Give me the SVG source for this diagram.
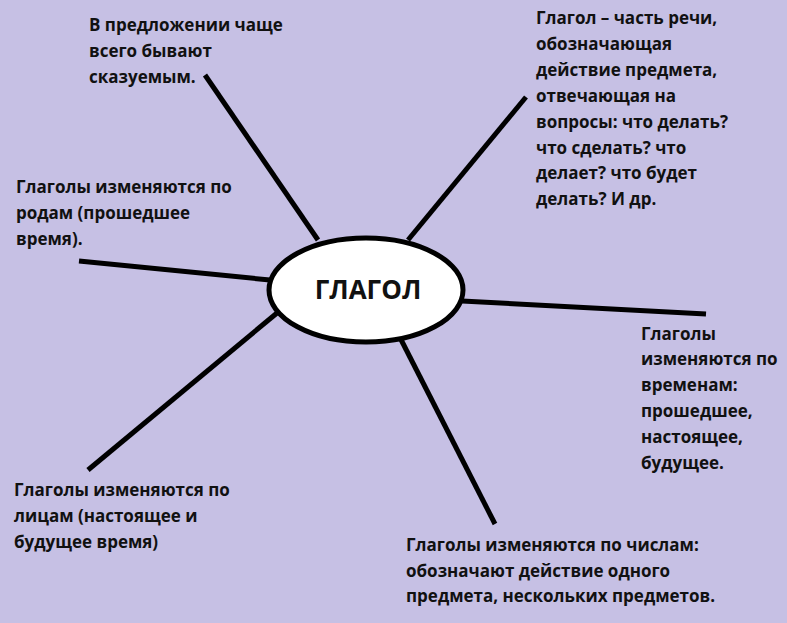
<svg xmlns="http://www.w3.org/2000/svg" width="787" height="623" viewBox="0 0 787 623">
<style>
.bg{fill:#c6c0e4}
.ln{stroke:#000;stroke-width:5;stroke-linecap:butt;fill:none}
.t{font-family:"Open Sans","Noto Sans","DejaVu Sans",sans-serif;font-weight:bold;font-size:17px;fill:#111}
.c{font-family:"Open Sans","Noto Sans","DejaVu Sans",sans-serif;font-weight:bold;font-size:26px;fill:#111}
</style>
<rect class="bg" x="0" y="0" width="787" height="623"/>
<g id="connectors">
<line class="ln" x1="205" y1="75" x2="318" y2="240"/>
<line class="ln" x1="526" y1="97" x2="408" y2="240"/>
<line class="ln" x1="79" y1="261" x2="270" y2="280"/>
<line class="ln" x1="462" y1="301" x2="706" y2="314"/>
<line class="ln" x1="88" y1="470" x2="277" y2="313"/>
<line class="ln" x1="390" y1="318" x2="495" y2="524"/>
</g>
<g id="center">
<ellipse cx="366" cy="290" rx="97" ry="52" fill="#fff" stroke="#000" stroke-width="5"/>
<text class="c" x="368" y="299" text-anchor="middle">ГЛАГОЛ</text>
</g>
<g id="n-predicate">
<text class="t" x="89" y="31">В предложении чаще</text>
<text class="t" x="89" y="57">всего бывают</text>
<text class="t" x="89" y="83">сказуемым.</text>
</g>
<g id="n-definition">
<text class="t" x="536" y="24">Глагол – часть речи,</text>
<text class="t" x="536" y="50">обозначающая</text>
<text class="t" x="536" y="76">действие предмета,</text>
<text class="t" x="536" y="102">отвечающая на</text>
<text class="t" x="536" y="128">вопросы: что делать?</text>
<text class="t" x="536" y="154">что сделать? что</text>
<text class="t" x="536" y="179">делает? что будет</text>
<text class="t" x="536" y="205">делать? И др.</text>
</g>
<g id="n-gender">
<text class="t" x="16" y="193">Глаголы изменяются по</text>
<text class="t" x="16" y="219">родам (прошедшее</text>
<text class="t" x="16" y="245">время).</text>
</g>
<g id="n-tense">
<text class="t" x="641" y="340">Глаголы</text>
<text class="t" x="641" y="365">изменяются по</text>
<text class="t" x="641" y="391">временам:</text>
<text class="t" x="641" y="417">прошедшее,</text>
<text class="t" x="641" y="443">настоящее,</text>
<text class="t" x="641" y="469">будущее.</text>
</g>
<g id="n-person">
<text class="t" x="14" y="496">Глаголы изменяются по</text>
<text class="t" x="14" y="522">лицам (настоящее и</text>
<text class="t" x="14" y="548">будущее время)</text>
</g>
<g id="n-number">
<text class="t" x="406" y="551">Глаголы изменяются по числам:</text>
<text class="t" x="406" y="577">обозначают действие одного</text>
<text class="t" x="406" y="602">предмета, нескольких предметов.</text>
</g>
</svg>
